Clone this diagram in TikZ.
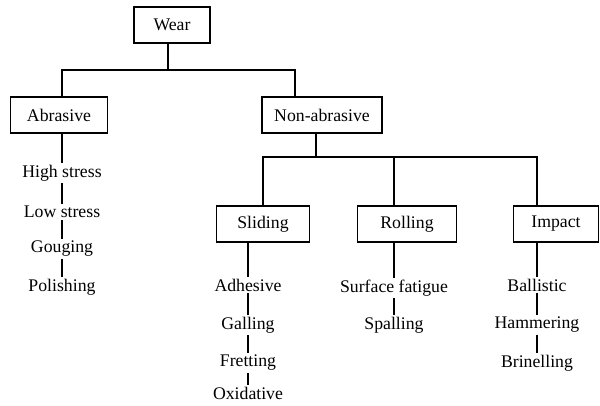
\documentclass[tikz,border=0pt]{standalone}
\usepackage{fontspec}
\setmainfont{Liberation Serif}
\usepackage{tikz}
\usetikzlibrary{calc}

\begin{document}
\begin{tikzpicture}[x=0.75pt,y=-0.75pt,line width=0.9pt,
  font=\fontsize{13.3}{15}\selectfont,
  box/.style={draw,minimum height=27pt,inner sep=2pt},
  item/.style={inner sep=1pt}]
\useasboundingbox (0,0) rectangle (600,405);
\node[box,minimum width=57pt] (wear) at (172,25) {Wear};
\node[box,minimum width=73pt] (abr) at (59,115) {Abrasive};
\node[box,minimum width=90pt] (nonab) at (322,115) {Non-abrasive};
\node[box,minimum width=70pt] (sliding) at (263,224) {Sliding};
\node[box,minimum width=74pt] (rolling) at (407,224) {Rolling};
\node[box,minimum width=64pt] (impact) at (556,224) {Impact};
\node[item] (hs) at (62,173) {High stress};
\node[item] (ls) at (62,212) {Low stress};
\node[item] (goug) at (62,249) {Gouging};
\node[item] (pol) at (62,287) {Polishing};
\node[item] (adh) at (248,285) {Adhesive};
\node[item] (gall) at (248,325) {Galling};
\node[item] (fret) at (248,363) {Fretting};
\node[item] (oxid) at (248,393) {Oxidative};
\node[item] (surf) at (394,288) {Surface fatigue};
\node[item] (spall) at (394,325) {Spalling};
\node[item] (ball) at (537,285) {Ballistic};
\node[item] (hamm) at (537,325) {Hammering};
\node[item] (brin) at (537,363) {Brinelling};
\coordinate (w) at (168,70);
\coordinate (nb) at (295,70);
\coordinate (n) at (316,157);
\draw (wear.south -| w) -- (w);
\draw (abr.north -| hs) |- (w) -| (nonab.north -| nb);
\draw (nonab.south -| n) -- (n);
\draw (sliding.north) |- (n) -| (impact.north -| ball);
\draw (surf |- rolling.north) -- (surf |- n);
\draw (abr.south -| hs) -- (hs);
\draw (sliding.south -| adh) -- (adh);
\draw (rolling.south -| surf) -- (surf);
\draw (impact.south -| ball) -- (ball);
\foreach \a/\b in {hs/ls,ls/goug,goug/pol,adh/gall,gall/fret,fret/oxid,surf/spall,ball/hamm,hamm/brin}
  \draw (\a) -- (\b);
\end{tikzpicture}
\end{document}
